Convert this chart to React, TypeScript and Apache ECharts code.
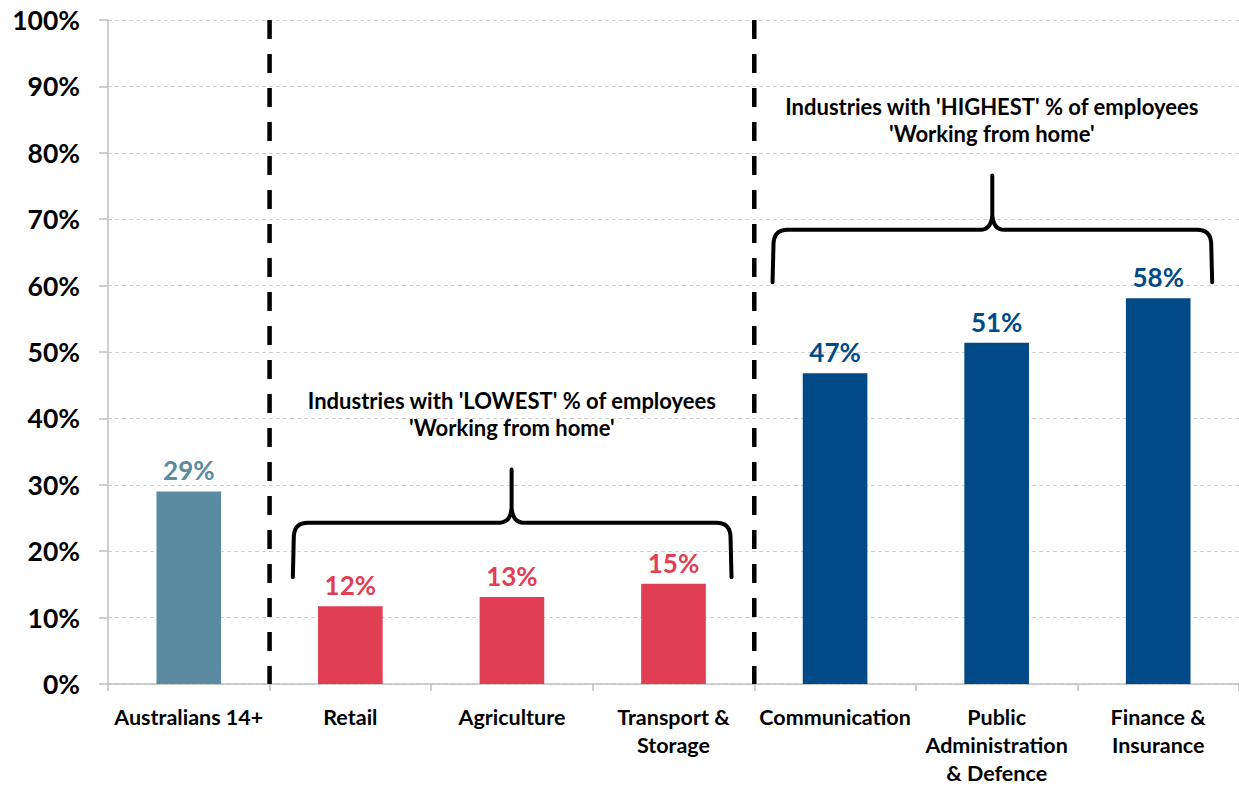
import React, { useEffect, useRef } from 'react';
import * as echarts from 'echarts';

const categories = [
  'Australians 14+',
  'Retail',
  'Agriculture',
  'Transport &\nStorage',
  'Communication',
  'Public\nAdministration\n& Defence',
  'Finance &\nInsurance',
];
const values = [29.0, 11.7, 13.1, 15.1, 46.8, 51.4, 58.1];
const valueLabels = ['29%', '12%', '13%', '15%', '47%', '51%', '58%'];
const barColors = ['#5A8BA0', '#E03E52', '#E03E52', '#E03E52', '#004B87', '#004B87', '#004B87'];

const yMin = 0;
const yMax = 100;
const yInterval = 10;

// category boundaries (in category-index units) where the dashed dividers sit
const dividers = [1, 4];
// braces: [left x, right x, middle x, end y, bar y, peak y]
const braces = [
  [1.144, 3.859, 2.498, 16.1, 24.3, 32.3],
  [4.113, 6.834, 5.473, 60.5, 68.4, 76.6],
];
const noteX = [2.5, 5.47];
const noteY = [40.7, 84.9];
const noteTexts = [
  "Industries with 'LOWEST' % of employees\n'Working from home'",
  "Industries with 'HIGHEST' % of employees\n'Working from home'",
];

const FONT = 'Lato';

export default function App() {
  const ref = useRef<HTMLDivElement>(null);
  useEffect(() => {
    if (!ref.current) return;
    const chart = echarts.init(ref.current, null, { renderer: 'svg' });
    const option: any = {
      animation: false,
      grid: { left: 108, top: 20, width: 1131, height: 671, containLabel: false },
      xAxis: [
        {
          type: 'category',
          data: categories,
          boundaryGap: true,
          axisLine: { show: true, lineStyle: { color: '#BFBFBF', width: 1.5 } },
          axisTick: { show: true, length: 7, lineStyle: { color: '#BFBFBF', width: 1.5 } },
          axisLabel: {
            interval: 0,
            color: '#000',
            fontFamily: FONT,
            fontWeight: 'bold',
            fontSize: 21.5,
            lineHeight: 28,
            margin: 19,
          },
          splitLine: { show: false },
        },
        { type: 'value', min: 0, max: 7, show: false },
      ],
      yAxis: {
        type: 'value',
        min: yMin,
        max: yMax,
        interval: yInterval,
        axisLine: { show: true, lineStyle: { color: '#BFBFBF', width: 1.5 } },
        axisTick: { show: true, length: 9, lineStyle: { color: '#BFBFBF', width: 1.5 } },
        axisLabel: {
          formatter: '{value}%',
          color: '#000',
          fontFamily: FONT,
          fontWeight: 'bold',
          fontSize: 26.5,
          margin: 28,
        },
        splitLine: { show: true, lineStyle: { color: '#D0D0D0', type: [4, 3], width: 1 } },
      },
      series: [
        {
          type: 'bar',
          barWidth: '40%',
          data: values.map((v, i) => ({
            value: v,
            itemStyle: { color: barColors[i] },
            label: { color: barColors[i] },
          })),
          label: {
            show: true,
            position: 'top',
            distance: 8,
            fontFamily: FONT,
            fontWeight: 'bold',
            fontSize: 26,
            formatter: (p: any) => valueLabels[p.dataIndex],
          },
        },
        {
          type: 'custom',
          xAxisIndex: 1,
          yAxisIndex: 0,
          silent: true,
          data: dividers.map((d) => [d, yMax]),
          renderItem: (params: any, api: any) => {
            const top = api.coord([api.value(0), yMax]);
            const bot = api.coord([api.value(0), yMin]);
            return {
              type: 'line',
              shape: { x1: top[0], y1: top[1], x2: bot[0], y2: bot[1] },
              style: { stroke: '#000', lineWidth: 4.5, lineDash: [19, 15] },
            };
          },
        },
        {
          type: 'custom',
          xAxisIndex: 1,
          yAxisIndex: 0,
          silent: true,
          data: braces,
          renderItem: (params: any, api: any) => {
            const x0 = api.coord([api.value(0), 0])[0];
            const x1 = api.coord([api.value(1), 0])[0];
            const xm = api.coord([api.value(2), 0])[0];
            const yb = api.coord([0, api.value(3)])[1];
            const yh = api.coord([0, api.value(4)])[1];
            const yp = api.coord([0, api.value(5)])[1];
            const r = 13;
            const d =
              `M${x0},${yb} L${x0 + 1},${yh + r} Q${x0 + 2},${yh} ${x0 + r + 2},${yh} ` +
              `L${xm - 12},${yh} Q${xm - 1},${yh} ${xm},${yh - 15} L${xm},${yp} ` +
              `M${xm},${yh - 15} Q${xm + 1},${yh} ${xm + 12},${yh} ` +
              `L${x1 - r - 2},${yh} Q${x1 - 2},${yh} ${x1 - 1},${yh + r} L${x1},${yb}`;
            return {
              type: 'path',
              shape: { pathData: d },
              style: { fill: 'none', stroke: '#000', lineWidth: 4, lineCap: 'round', lineJoin: 'round' },
            };
          },
        },
        {
          type: 'custom',
          xAxisIndex: 1,
          yAxisIndex: 0,
          silent: true,
          data: noteX.map((x, i) => [x, noteY[i]]),
          renderItem: (params: any, api: any) => {
            const p = api.coord([api.value(0), api.value(1)]);
            return {
              type: 'text',
              x: p[0],
              y: p[1],
              style: {
                text: noteTexts[params.dataIndex],
                fill: '#000',
                fontFamily: FONT,
                fontWeight: 'bold',
                fontSize: 22,
                lineHeight: 27,
                align: 'center',
                verticalAlign: 'middle',
              },
            };
          },
        },
      ],
    };
    chart.setOption(option);
    return () => chart.dispose();
  }, []);
  return (
    <div
      ref={ref}
      style={{ position: 'absolute', left: 0, top: 0, width: 1239, height: 787, background: '#fff' }}
    />
  );
}
